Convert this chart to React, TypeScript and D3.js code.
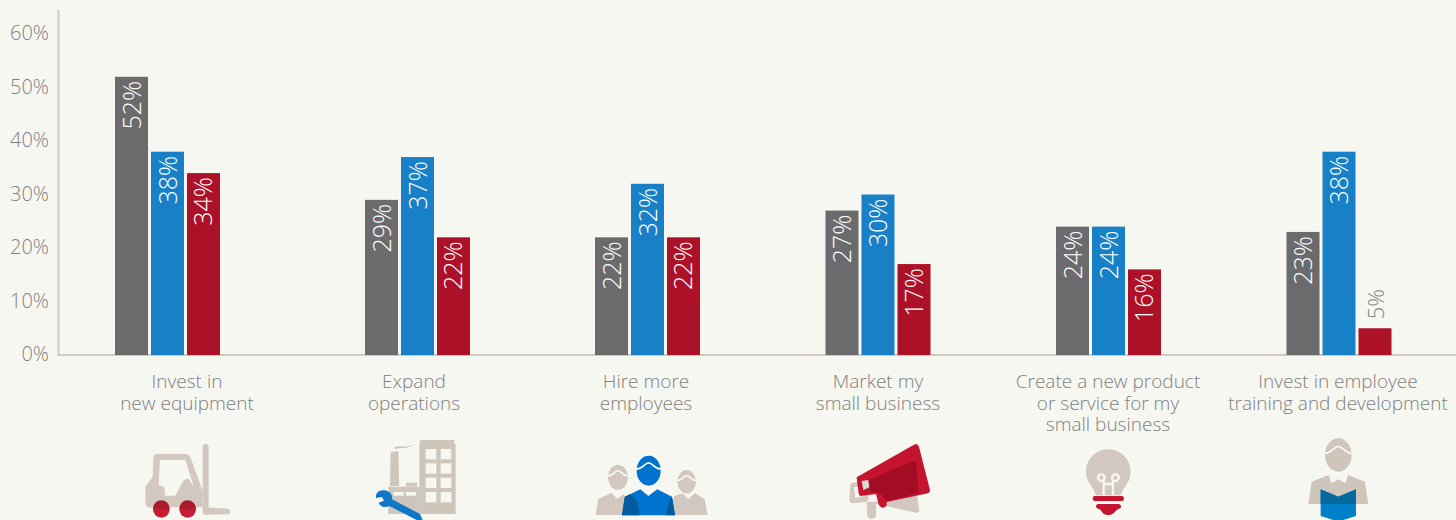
import React from "react";
import * as d3 from "d3";

const categories = [
  "Invest in|new equipment",
  "Expand|operations",
  "Hire more|employees",
  "Market my|small business",
  "Create a new product|or service for my|small business",
  "Invest in employee|training and development",
];
const seriesNames = ["grey", "blue", "red"];
const greyValues = [52, 29, 22, 27, 24, 23];
const blueValues = [38, 37, 32, 30, 24, 38];
const redValues = [34, 22, 22, 17, 16, 5];
const yTicks = [0, 10, 20, 30, 40, 50, 60];

const W = 1456;
const H = 520;
const FONT = "'Open Sans', sans-serif";
const SAND = "#d3c8c0";
const INK = "#808080";
const barColors = ["#6b6b6d", "#1880c6", "#ad1128"];

// Group centres are not evenly spaced: the first cluster sits left of its caption.
const groupX = d3.scaleOrdinal<string, number>().domain(categories).range([167.5, 417.5, 647.5, 878, 1108.5, 1339]);
const captionX = d3.scaleOrdinal<string, number>().domain(categories).range([187, 414, 646, 878, 1108, 1338]);
const inner = d3.scaleBand().domain(seriesNames).range([-52.5, 52.5]).paddingInner(0.083);
const y = d3.scaleLinear().domain([0, 60]).range([355, 34]);

const Forklift = () => (
  <g transform="translate(120,430) scale(0.3333)">
    <path
      fill={SAND}
      fillRule="evenodd"
      d="M112 72 H198 Q208 72 212 84 L248 182 L248 232 H100 Q76 238 76 215 V170 L98 140 L100 84 Q100 72 112 72 Z M120 90 L116 165 L133 172 L135 197 H165 L192 150 L205 145 L222 172 L196 90 Z"
    />
    <rect x={248} y={42} width={18} height={212} rx={9} fill={SAND} />
    <path d="M252 232 L322 236 Q331 238 331 245 Q331 253 322 253 L252 254 Z" fill={SAND} />
    {[124, 203].map((cx) => (
      <g key={cx}>
        <circle cx={cx} cy={238} r={25} fill="#c61d33" />
        <path d={`M${cx - 25} 236 A25 25 0 0 1 ${cx + 25} 236 Z`} fill="#a91c2c" />
      </g>
    ))}
  </g>
);

const Factory = () => {
  const col = "#cfc6bb";
  return (
    <g transform="translate(120,430) scale(0.3333)">
      <path d="M900 30 H1003 V42 H1007 V252 H898 V42 Z" fill={col} />
      {[57, 100, 143, 186].flatMap((wy) =>
        [917, 962].map((wx) => <rect key={`${wx}-${wy}`} x={wx} y={wy} width={32} height={31} fill="#f7f7f2" />)
      )}
      <path d="M812 66 L835 63 L838 168 H810 Z" fill={col} />
      <path d="M824 52 C840 42 855 58 882 41 C862 62 842 48 826 58 Z" fill={col} />
      <rect x={858} y={158} width={33} height={11} fill={col} />
      <rect x={805} y={170} width={94} height={82} fill={col} />
      <rect x={820} y={186} width={31} height={11} fill="#f7f7f2" />
      <rect x={858} y={186} width={30} height={11} fill="#f7f7f2" />
      <path
        d="M793 181 C776 178 766 190 768 204 L786 201 L792 212 L776 218 C782 232 796 234 808 228 L890 270 L908 270 L900 252 L816 208 C820 196 808 182 793 181 Z"
        fill="#0f76c8"
      />
    </g>
  );
};

const Person = ({ cx, cy, rx, ry, fill }: { cx: number; cy: number; rx: number; ry: number; fill: string }) => (
  <g>
    <ellipse cx={cx} cy={cy} rx={rx} ry={ry} fill={fill} />
    <path
      d={`M${cx - rx - 2} ${cy - ry * 0.1} C${cx - rx * 0.45} ${cy - ry * 0.1} ${cx - rx * 0.35} ${cy - ry * 0.52} ${cx} ${cy - ry * 0.52} C${cx + rx * 0.35} ${cy - ry * 0.52} ${cx + rx * 0.45} ${cy - ry * 0.1} ${cx + rx + 2} ${cy - ry * 0.1}`}
      fill="none"
      stroke="#f7f7f2"
      strokeWidth={5}
    />
  </g>
);

const People = () => (
  <g transform="translate(580,430) scale(0.3333)">
    <Person cx={114} cy={142} rx={30} ry={38} fill={SAND} />
    <path d="M47 255 L55 207 L95 188 L111 206 L132 192 L150 255 Z" fill={SAND} />
    <Person cx={320} cy={155} rx={28} ry={35} fill={SAND} />
    <path d="M270 255 L282 198 L308 190 L325 208 L345 189 L374 208 L383 255 Z" fill={SAND} />
    <Person cx={206} cy={122} rx={36} ry={45} fill="#0073cf" />
    <path d="M126 256 L135 200 L181 178 L205 198 L232 178 L276 200 L285 256 Z" fill="#0073cf" />
    <path d="M126 256 L134 200 L150 193 C170 205 176 225 179 256 Z" fill="#005c9f" />
    <path d="M258 256 C260 238 264 222 274 204 L276 200 L285 256 Z" fill="#005c9f" />
  </g>
);

const Megaphone = () => (
  <g transform="translate(580,430) scale(0.3333)">
    <path d="M812 160 L856 152 L866 208 L860 215 L888 215 L1010 186 L1018 240 Q1018 250 1008 248 L888 222 L888 258 Q886 266 874 266 Q862 266 862 256 L860 216 L816 220 Q808 218 808 210 Z" fill={SAND} />
    <path d="M822 172 L848 168 L852 198 L826 204 Z" fill="#f7f7f2" />
    <path d="M830 142 L1002 44 Q1012 38 1017 50 L1050 180 Q1051 188 1044 190 L920 216 L920 226 Q914 236 904 232 Q898 230 896 222 L888 192 L842 198 Q836 198 836 190 Z" fill="#c5142f" />
    <path d="M866 150 L998 94 Q1008 92 1009 102 L1016 190 L920 212 L900 190 L870 182 Z" fill="#a20d24" />
    <path d="M845 153 L865 150 L868 172 L850 180 Z" fill="#e0d8d2" />
  </g>
);

const Bulb = () => (
  <g transform="translate(1060,430) scale(0.3333)">
    <path d="M145 58 C108 58 78 88 78 125 C78 150 92 165 100 178 L108 196 H182 L190 178 C198 165 212 150 212 125 C212 88 182 58 145 58 Z" fill={SAND} />
    <g fill="none" stroke="#f7f7f2" strokeWidth={7}>
      <circle cx={124} cy={143} r={10} />
      <circle cx={166} cy={143} r={10} />
      <path d="M131 150 V196 M159 150 V196 M131 162 H159" />
    </g>
    <rect x={98} y={198} width={94} height={15} rx={7} fill="#c5142f" />
    <path d="M114 222 H176 Q186 224 182 234 L170 240 Q158 256 145 255 Q130 256 122 240 L110 234 Q104 224 114 222 Z" fill="#c5142f" />
  </g>
);

const Reader = () => (
  <g transform="translate(1060,430) scale(0.3333)">
    <Person cx={835} cy={75} rx={40} ry={50} fill="#cfc6bb" />
    <path d="M745 222 L755 155 L806 135 L815 160 L835 148 L857 160 L864 135 L915 155 L925 222 Z" fill="#cfc6bb" />
    <path d="M782 178 L835 200 L888 178 V258 L835 275 L782 258 Z" fill="#0080c6" />
    <path d="M782 178 L835 200 L888 178 V222 H782 Z" fill="#06699d" />
  </g>
);

export default function App() {
  const series = [greyValues, blueValues, redValues];
  return (
    <svg
      width={W}
      height={H}
      viewBox={`0 0 ${W} ${H}`}
      style={{ position: "absolute", left: 0, top: 0, background: "#f7f7f2", fontFamily: FONT, fontWeight: 300 }}
    >
      {/* axes */}
      <path d={`M58.5 10 V${y(0)} H${W}`} fill="none" stroke={SAND} strokeWidth={2} />
      {yTicks.map((t) => (
        <text key={t} x={49} y={y(t) + 6} textAnchor="end" fontSize={20} fill={INK}>
          {t}%
        </text>
      ))}

      {/* clustered bars */}
      {categories.map((cat, i) => (
        <g key={cat}>
          {series.map((vals, s) => {
            const x0 = groupX(cat) + (inner(seriesNames[s]) as number);
            const bw = inner.bandwidth();
            const top = y(vals[i]);
            const outside = vals[i] < 10;
            const ly = outside ? top - 9 : top + 4;
            return (
              <g key={s}>
                <rect x={x0} y={top} width={bw} height={y(0) - top} fill={barColors[s]} />
                <text
                  transform={`translate(${x0 + bw / 2 + 9},${ly}) rotate(-90)`}
                  textAnchor={outside ? "start" : "end"}
                  fontSize={outside ? 22 : 25}
                  fill={outside ? INK : "#ffffff"}
                >
                  {vals[i]}%
                </text>
              </g>
            );
          })}
          <text textAnchor="middle" fontSize={19} fill={INK}>
            {cat.split("|").map((line, k) => (
              <tspan key={k} x={captionX(cat)} y={388 + k * 21.5}>
                {line}
              </tspan>
            ))}
          </text>
        </g>
      ))}

      {/* theme pictograms */}
      <Forklift />
      <Factory />
      <People />
      <Megaphone />
      <Bulb />
      <Reader />
    </svg>
  );
}
